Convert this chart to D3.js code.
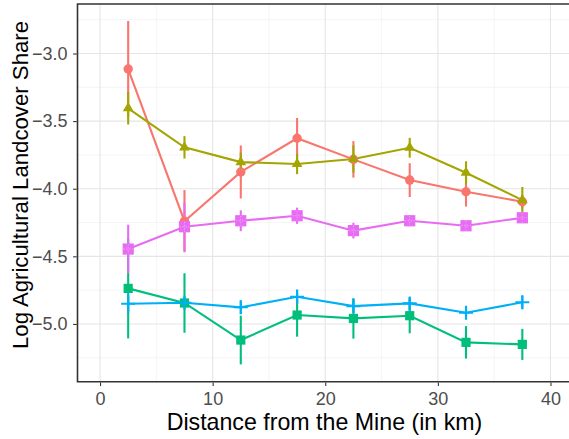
<!DOCTYPE html>
<html><head><meta charset="utf-8">
<script src="https://cdn.jsdelivr.net/npm/d3@7"></script>
<style>body{margin:0;background:#fff}svg{display:block}</style>
</head><body>
<script>
const distances = [2.5, 7.5, 12.5, 17.5, 22.5, 27.5, 32.5, 37.5];
const xTicks = [0, 10, 20, 30, 40];
const yTicks = [-5.0, -4.5, -4.0, -3.5, -3.0];
const xMinor = [5, 15, 25, 35];
const yMinor = [-5.25, -4.75, -4.25, -3.75, -3.25, -2.75];

const group1 = [-3.115, -4.24, -3.876, -3.627, -3.783, -3.936, -4.022, -4.096];
const group1Err = [0.355, 0.23, 0.196, 0.15, 0.135, 0.125, 0.11, 0.05];
const group2 = [-3.405, -3.694, -3.803, -3.817, -3.78, -3.697, -3.882, -4.084];
const group2Err = [0.12, 0.083, 0.07, 0.075, 0.1, 0.073, 0.085, 0.097];
const group3 = [-4.737, -4.845, -5.119, -4.934, -4.959, -4.939, -5.136, -5.151];
const group3Err = [0.37, 0.22, 0.18, 0.16, 0.15, 0.13, 0.12, 0.115];
const group4 = [-4.851, -4.843, -4.877, -4.799, -4.868, -4.848, -4.917, -4.84];
const group4Err = [0.07, 0.04, 0.05, 0.053, 0.05, 0.045, 0.047, 0.05];
const group5 = [-4.446, -4.281, -4.237, -4.2, -4.31, -4.237, -4.274, -4.215];
const group5Err = [0.18, 0.18, 0.077, 0.06, 0.058, 0.04, 0.03, 0.03];

const colors = ["#F8766D", "#A3A500", "#00BF7D", "#00B0F6", "#E76BF3"];
const shapes = ["circle", "triangle", "square", "plus", "squareplus"];
const series = [
  {v: group1, e: group1Err}, {v: group2, e: group2Err}, {v: group3, e: group3Err},
  {v: group4, e: group4Err}, {v: group5, e: group5Err}
].map((s, i) => ({...s, color: colors[i], shape: shapes[i],
  pts: distances.map((d, j) => ({x: d, y: s.v[j], e: s.e[j]}))}));

const W = 569, H = 439;
const svg = d3.select("body").append("svg").attr("width", W).attr("height", H);
const font = "'Liberation Sans', Arial, sans-serif";

const x = d3.scaleLinear().domain([-2, 42]).range([77.5, 573]);
const y = d3.scaleLinear().domain([-5.427, -2.634]).range([381.7, 4]);
const L = 77.5, R = 573, T = 4, B = 381.7;

// gridlines
const g = svg.append("g");
g.selectAll(".ymin").data(yMinor).join("line").attr("x1", L).attr("x2", R)
  .attr("y1", d => y(d)).attr("y2", d => y(d)).attr("stroke", "#EBEBEB").attr("stroke-width", 0.55);
g.selectAll(".xmin").data(xMinor).join("line").attr("y1", T).attr("y2", B)
  .attr("x1", d => x(d)).attr("x2", d => x(d)).attr("stroke", "#EBEBEB").attr("stroke-width", 0.55);
g.selectAll(".ymaj").data(yTicks).join("line").attr("x1", L).attr("x2", R)
  .attr("y1", d => y(d)).attr("y2", d => y(d)).attr("stroke", "#E5E5E5").attr("stroke-width", 1.1);
g.selectAll(".xmaj").data(xTicks).join("line").attr("y1", T).attr("y2", B)
  .attr("x1", d => x(d)).attr("x2", d => x(d)).attr("stroke", "#E5E5E5").attr("stroke-width", 1.1);

// error bars
series.forEach(s => {
  svg.append("g").selectAll("line").data(s.pts).join("line")
    .attr("x1", d => x(d.x)).attr("x2", d => x(d.x))
    .attr("y1", d => y(d.y + d.e)).attr("y2", d => y(d.y - d.e))
    .attr("stroke", s.color).attr("stroke-width", 2.1);
});
// lines
const line = d3.line().x(d => x(d.x)).y(d => y(d.y));
series.forEach(s => {
  svg.append("path").datum(s.pts).attr("d", line).attr("fill", "none")
    .attr("stroke", s.color).attr("stroke-width", 2.1);
});
// points
series.forEach(s => {
  const pg = svg.append("g");
  s.pts.forEach(d => {
    const cx = x(d.x), cy = y(d.y);
    if (s.shape === "circle") {
      pg.append("circle").attr("cx", cx).attr("cy", cy).attr("r", 4.7).attr("fill", s.color);
    } else if (s.shape === "triangle") {
      const r = 6.2;
      pg.append("path").attr("d", `M${cx},${cy - r}L${cx + r * 0.866},${cy + r * 0.5}L${cx - r * 0.866},${cy + r * 0.5}Z`)
        .attr("fill", s.color);
    } else if (s.shape === "square") {
      pg.append("rect").attr("x", cx - 4.6).attr("y", cy - 4.6).attr("width", 9.2).attr("height", 9.2).attr("fill", s.color);
    } else if (s.shape === "plus") {
      pg.append("path").attr("d", `M${cx - 7},${cy}H${cx + 7}M${cx},${cy - 7}V${cy + 7}`)
        .attr("stroke", s.color).attr("stroke-width", 2.1).attr("fill", "none");
    } else {
      pg.append("rect").attr("x", cx - 5).attr("y", cy - 5).attr("width", 10).attr("height", 10)
        .attr("fill", s.color).attr("stroke", s.color).attr("stroke-width", 1.2);
      pg.append("path").attr("d", `M${cx - 5},${cy}H${cx + 5}M${cx},${cy - 5}V${cy + 5}`)
        .attr("stroke", "#F2B0F6").attr("stroke-width", 0.8).attr("stroke-dasharray", "1.5,1.5");
    }
  });
});

// panel border (top, left, bottom)
svg.append("path").attr("d", `M${R + 5},${T}H${L}V${B}H${R + 5}`).attr("fill", "none")
  .attr("stroke", "#333333").attr("stroke-width", 1.6);

// axes
const yAxis = d3.axisLeft(y).tickValues(yTicks).tickFormat(d3.format(".1f")).tickSize(3.6).tickPadding(5.5);
const ya = svg.append("g").attr("transform", `translate(${L - 0.8},0)`).call(yAxis);
const xAxis = d3.axisBottom(x).tickValues(xTicks).tickFormat(d => String(d)).tickSize(3.6).tickPadding(6);
const xa = svg.append("g").attr("transform", `translate(0,${B + 0.8})`).call(xAxis);
[ya, xa].forEach(a => {
  a.select(".domain").remove();
  a.selectAll(".tick line").attr("stroke", "#333333").attr("stroke-width", 1.1);
  a.selectAll(".tick text").attr("fill", "#4D4D4D").style("font-family", font).style("font-size", "18px");
});

svg.append("text").attr("x", 324.5).attr("y", 429.5).attr("text-anchor", "middle")
  .style("font-family", font).style("font-size", "23.2px").attr("fill", "#000").text("Distance from the Mine (in km)");
svg.append("text").attr("transform", `translate(27.5,185) rotate(-90)`).attr("text-anchor", "middle")
  .style("font-family", font).style("font-size", "22.2px").attr("fill", "#000").text("Log Agricultural Landcover Share");
</script>
</body></html>
